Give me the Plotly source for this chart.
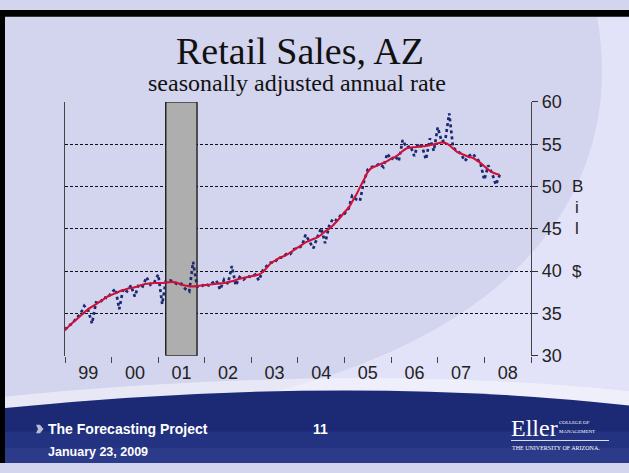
import plotly.graph_objects as go
import pandas as pd

# ---------------- data ----------------
start_month = "1999-01-01"
retail_monthly = [
    33.1, 33.6, 33.8, 34.5, 34.9, 35.9, 35.4, 33.8, 36.3, 36.2, 36.9, 36.8,   # 1999
    37.5, 37.9, 35.5, 37.9, 37.6, 38.3, 37.0, 38.4, 38.2, 39.3, 38.4, 38.7,   # 2000
    39.6, 36.1, 38.8, 38.9, 38.8, 38.4, 38.5, 37.9, 37.6, 41.1, 38.2, 38.1,   # 2001
    38.5, 38.3, 38.6, 38.9, 37.8, 39.0, 38.5, 40.6, 38.3, 39.3, 39.0, 39.4,   # 2002
    39.3, 39.6, 38.9, 40.1, 40.6, 41.0, 41.0, 41.6, 41.6, 42.0, 42.0, 42.6,   # 2003
    42.7, 43.0, 44.3, 43.5, 42.7, 44.0, 45.1, 43.3, 45.3, 46.2, 46.0, 46.6,   # 2004
    46.8, 47.4, 48.9, 48.5, 48.3, 50.6, 52.0, 52.3, 52.4, 52.7, 52.3, 53.9,   # 2005
    53.2, 53.6, 53.0, 55.5, 54.6, 54.8, 53.6, 55.1, 54.7, 53.2, 55.7, 54.2,   # 2006
    57.0, 55.3, 55.5, 58.65, 54.6, 54.2, 53.9, 53.0, 53.6, 53.9, 53.3, 52.8,  # 2007
    50.8, 52.5, 51.6, 50.2, 51.4,                                             # 2008
]
retail_trend = [
    33.0, 33.5, 33.9, 34.3, 34.7, 35.1, 35.5, 35.8, 36.1, 36.4, 36.7, 37.0,
    37.2, 37.4, 37.6, 37.75, 37.9, 38.0, 38.1, 38.25, 38.4, 38.5, 38.55, 38.6,
    38.6, 38.6, 38.65, 38.7, 38.7, 38.6, 38.4, 38.3, 38.2, 38.2, 38.25, 38.3,
    38.35, 38.4, 38.45, 38.5, 38.55, 38.6, 38.7, 38.8, 38.95, 39.1, 39.2, 39.3,
    39.4, 39.5, 39.6, 39.9, 40.4, 40.9, 41.2, 41.5, 41.7, 41.9, 42.2, 42.5,
    42.8, 43.1, 43.4, 43.6, 43.8, 44.0, 44.3, 44.7, 45.0, 45.4, 45.9, 46.4,
    47.0, 47.5, 48.2, 49.0, 49.9, 50.8, 51.7, 52.2, 52.4, 52.6, 52.8, 53.0,
    53.3, 53.5, 53.8, 54.2, 54.5, 54.6, 54.65, 54.7, 54.75, 54.8, 54.9, 55.0,
    55.1, 55.2, 55.15, 54.9, 54.5, 54.1, 53.9, 53.7, 53.5, 53.4, 53.1, 52.8,
    52.4, 52.0, 51.7, 51.5, 51.4,
]
years = [1999, 2000, 2001, 2002, 2003, 2004, 2005, 2006, 2007, 2008]
year_labels = ["99", "00", "01", "02", "03", "04", "05", "06", "07", "08"]
y_ticks = [30, 35, 40, 45, 50, 55, 60]
y_range = [30, 60]
recession_start, recession_end = "2001-03-01", "2001-11-01"

months = pd.date_range(start_month, periods=len(retail_monthly), freq="MS")

# ---------------- geometry helpers (pixel -> paper) ----------------
W, H = 629, 473
def fx(x):
    return x / W
def fy(y):
    return 1 - y / H
def svg(segs):
    out = []
    for cmd, pts in segs:
        s = cmd
        if pts:
            s += " " + " ".join(f"{fx(x):.5f},{fy(y):.5f}" for x, y in pts)
        out.append(s)
    return " ".join(out)

PLOT_L, PLOT_R, PLOT_T, PLOT_B = 65, 531, 96, 361

fig = go.Figure()
# recession shading (drawn as a filled trace so it sits above the gridlines)
fig.add_trace(go.Scatter(
    x=[recession_start, recession_start, recession_end, recession_end, recession_start],
    y=[y_range[0], y_range[1], y_range[1], y_range[0], y_range[0]],
    mode="lines", fill="toself", fillcolor="#AEAEAE",
    line=dict(color="#000", width=1.2), hoverinfo="skip", name="recession"))
fig.add_trace(go.Scatter(
    x=months, y=retail_monthly, mode="lines", name="monthly",
    line=dict(color="#1B2A6E", width=2.7, dash="dot"), hoverinfo="x+y"))
fig.add_trace(go.Scatter(
    x=months, y=retail_trend, mode="lines", name="trend",
    line=dict(color="#D0103A", width=2.1, shape="spline"), hoverinfo="x+y"))

shapes = []
# slide background pieces
shapes.append(dict(type="path", xref="paper", yref="paper", layer="below",
                   path=svg([("M", [(597, 7)]), ("C", [(622, 150), (560, 330), (250, 405)]),
                             ("L", [(250, 473)]), ("L", [(629, 473)]), ("L", [(629, 7)]), ("Z", [])]),
                   fillcolor="#E2E2F9", line=dict(width=0)))
# highlight above footer
shapes.append(dict(type="path", xref="paper", yref="paper", layer="below",
                   path=svg([("M", [(0, 404)]), ("Q", [(350, 368), (629, 398)]), ("L", [(629, 413)]),
                             ("Q", [(350, 380), (0, 416)]), ("Z", [])]),
                   fillcolor="rgba(255,255,255,0.45)", line=dict(width=0)))
# footer band
shapes.append(dict(type="path", xref="paper", yref="paper", layer="below",
                   path=svg([("M", [(0, 416)]), ("Q", [(350, 380), (629, 413)]), ("L", [(629, 473)]),
                             ("L", [(0, 473)]), ("Z", [])]),
                   fillcolor="#1C2A76", line=dict(width=0)))
shapes.append(dict(type="rect", xref="paper", yref="paper", layer="below",
                   x0=fx(0), x1=fx(629), y0=fy(473), y1=fy(440),
                   fillcolor="rgba(70,85,170,0.22)", line=dict(width=0)))
shapes.append(dict(type="rect", xref="paper", yref="paper", layer="below",
                   x0=fx(0), x1=fx(629), y0=fy(473), y1=fy(457),
                   fillcolor="rgba(70,85,170,0.22)", line=dict(width=0)))
# black slide frame (top and left)
shapes.append(dict(type="rect", xref="paper", yref="paper", layer="above",
                   x0=fx(0), x1=fx(629), y0=fy(7), y1=fy(0), fillcolor="#000", line=dict(width=0)))
shapes.append(dict(type="rect", xref="paper", yref="paper", layer="above",
                   x0=fx(0), x1=fx(5), y0=fy(473), y1=fy(0), fillcolor="#000", line=dict(width=0)))
# footer bullet
shapes.append(dict(type="path", xref="paper", yref="paper", layer="above",
                   path=svg([("M", [(36, 433)]), ("L", [(40, 433)]), ("L", [(43.5, 437.5)]),
                             ("L", [(40, 442)]), ("L", [(36, 442)]), ("L", [(38, 437.5)]), ("Z", [])]),
                   fillcolor="#B8BCD0", line=dict(width=0)))
# Eller logo rule
shapes.append(dict(type="line", xref="paper", yref="paper", layer="above",
                   x0=fx(511), x1=fx(609), y0=fy(449.5), y1=fy(449.5),
                   line=dict(color="rgba(255,255,255,0.85)", width=1)))

annotations = []
def txt(text, x, y, size, family="Liberation Sans", color="#000", xanchor="center",
        yanchor="middle", bold=False):
    if bold:
        text = f"<b>{text}</b>"
    annotations.append(dict(text=text, x=fx(x), y=fy(y), xref="paper", yref="paper",
                            showarrow=False, xanchor=xanchor, yanchor=yanchor,
                            font=dict(family=family, size=size, color=color)))

txt("Retail Sales, AZ", 300, 43, 38, family="Liberation Serif", color="#111")
txt("seasonally adjusted annual rate", 297, 76, 24, family="Liberation Serif", color="#111")
for ch, yy in [("B", 184), ("i", 206), ("l", 228), ("$", 273)]:
    txt(ch, 577, yy, 17, color="#222")
txt("The Forecasting Project", 46, 438, 14, color="#FFFFFF", xanchor="left", bold=True)
txt("January 23, 2009", 46, 461, 12.5, color="#FFFFFF", xanchor="left", bold=True)
txt("11", 320, 437, 14, color="#FFFFFF", bold=True)
txt("Eller", 509, 436, 24, family="Liberation Serif", color="#FFFFFF", xanchor="left")
txt("COLLEGE OF", 557, 431, 5, family="Liberation Serif", color="#FFFFFF", xanchor="left")
txt("MANAGEMENT", 557, 440, 5, family="Liberation Serif", color="#FFFFFF", xanchor="left")
txt("THE UNIVERSITY OF ARIZONA.", 510, 457, 6, family="Liberation Serif", color="#FFFFFF", xanchor="left")

fig.update_layout(
    width=W, height=H, autosize=False,
    margin=dict(l=0, r=0, t=0, b=0),
    paper_bgcolor="#D3D4EE",
    plot_bgcolor="rgba(0,0,0,0)",
    showlegend=False,
    shapes=shapes,
    annotations=annotations,
    font=dict(family="Liberation Sans", color="#222"),
    xaxis=dict(
        domain=[PLOT_L / W, PLOT_R / W],
        type="date",
        range=["1999-01-01", "2009-01-01"],
        tickvals=[f"{y}-07-02" for y in years],
        ticktext=year_labels,
        ticks="outside", ticklen=0, tickwidth=0,
        ticklabelstandoff=1,
        tickfont=dict(family="Liberation Sans", size=18, color="#222"),
        showgrid=False, showline=False, zeroline=False,
        minor=dict(ticks="outside", ticklen=6, tickwidth=1.3, tickcolor="#444",
                   tick0="1999-01-01", dtick="M12", showgrid=False),
        fixedrange=True,
    ),
    yaxis=dict(
        domain=[1 - PLOT_B / H, 1 - PLOT_T / H],
        side="right",
        range=y_range,
        tickvals=y_ticks,
        ticks="outside", ticklen=6, tickwidth=1.3, tickcolor="#333",
        tickfont=dict(family="Liberation Sans", size=18, color="#222"),
        showgrid=True, gridcolor="#111", gridwidth=1, griddash="3px,2px",
        showline=True, linecolor="#444", linewidth=1.3, mirror=True,
        zeroline=False,
        fixedrange=True,
    ),
)

fig.write_html(
    "out.html",
    config={"displayModeBar": False, "responsive": False},
    post_script=("var gd=document.getElementById('{plot_id}');"
                 "gd.style.position='fixed';gd.style.left='0px';gd.style.top='0px';"
                 "document.body.style.margin='0';document.documentElement.style.overflow='hidden';"),
)
